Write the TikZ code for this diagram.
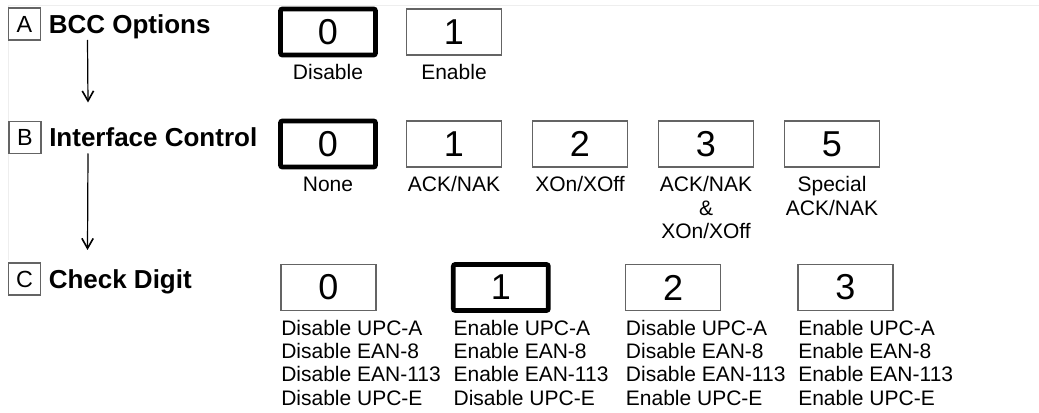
\documentclass[tikz,border=0pt]{standalone}
\usepackage{fontspec}
\setmainfont{Liberation Sans}
\usetikzlibrary{arrows.meta,positioning}
\definecolor{frameGray}{RGB}{100,100,100}
\definecolor{edgeGray}{RGB}{238,238,238}

\begin{document}
\begin{tikzpicture}[
  x=0.75pt, y=-0.75pt,
  letter/.style={
    draw=frameGray,
    line width=0.9pt,
    minimum size=24pt,
    inner sep=0pt,
    outer sep=0pt,
    font=\fontsize{17.5}{21}\selectfont
  },
  title/.style={inner sep=0pt, text depth=0pt, font=\fontsize{19.5}{23}\selectfont\bfseries},
  choice/.style={
    draw=frameGray,
    line width=1pt,
    minimum width=71.25pt,
    minimum height=34.5pt,
    inner sep=0pt,
    outer sep=0pt,
    font=\fontsize{27}{32}\selectfont
  },
  default/.style={choice, draw=black, line width=3.6pt, rounded corners=1.5pt},
  caption/.style={inner sep=0pt, align=center, font=\fontsize{15.75}{17.5}\selectfont},
  digitcap/.style={caption, align=left, anchor=north west},
  flow/.style={-{Straight Barb[length=7.5pt,width=8.5pt,line width=1.2pt]}, line width=0.9pt}
]
  \useasboundingbox (0,0) rectangle (1039,413);
  \draw[edgeGray] (8,260) -- (8,5) -- (1039,5);

  % A: BCC options
  \node[letter] (la) at (24.5,24) {A};
  \node[title,right=6pt of la] (ta) {BCC Options};
  \node[default] (a0) at (328,32) {0};
  \node[choice,right=23.25pt of a0] (a1) {1};
  \node[caption,below=7pt of a0] (ca0) {Disable};
  \node[caption,below=7pt of a1] (ca1) {Enable};

  % B: interface control
  \node[letter] (lb) at (25,137.5) {B};
  \node[title,right=6pt of lb] (tb) {Interface Control};
  \node[default] (b0) at (328,144) {0};
  \node[choice,right=23.25pt of b0] (b1) {1};
  \node[choice,right=23.25pt of b1] (b2) {2};
  \node[choice,right=23.25pt of b2] (b3) {3};
  \node[choice,right=23.25pt of b3] (b5) {5};
  \node[caption,below=7pt of b0] (cb0) {None};
  \node[caption,below=7pt of b1] (cb1) {ACK/NAK};
  \node[caption,below=7pt of b2] (cb2) {XOn/XOff};
  \node[caption,below=7pt of b3] (cb3) {ACK/NAK\\\&\\XOn/XOff};
  \node[caption,below=7pt of b5] (cb5) {Special\\ACK/NAK};

  % C: check digit
  \node[letter] (lc) at (24.5,279) {C};
  \node[title,right=6pt of lc] (tc) {Check Digit};
  \node[choice] (c0) at (328.5,287.5) {0};
  \node[default,right=58pt of c0] (c1) {1};
  \node[choice,right=58pt of c1] (c2) {2};
  \node[choice,right=58pt of c2] (c3) {3};
  \node[digitcap,below=7pt of c0.south west,anchor=north west] (cc0)
    {Disable UPC-A\\Disable EAN-8\\Disable EAN-113\\Disable UPC-E};
  \node[digitcap,below=7pt of c1.south west,anchor=north west] (cc1)
    {Enable UPC-A\\Enable EAN-8\\Enable EAN-113\\Disable UPC-E};
  \node[digitcap,below=7pt of c2.south west,anchor=north west] (cc2)
    {Disable UPC-A\\Disable EAN-8\\Disable EAN-113\\Enable UPC-E};
  \node[digitcap,below=7pt of c3.south west,anchor=north west] (cc3)
    {Enable UPC-A\\Enable EAN-8\\Enable EAN-113\\Enable UPC-E};

  \draw[flow] ([xshift=35.25pt]la.south east) -- ([xshift=35.25pt,yshift=14.25pt]lb.north east);
  \draw[flow] ([xshift=35.25pt]lb.south east) -- ([xshift=35.25pt,yshift=9.75pt]lc.north east);
\end{tikzpicture}
\end{document}
